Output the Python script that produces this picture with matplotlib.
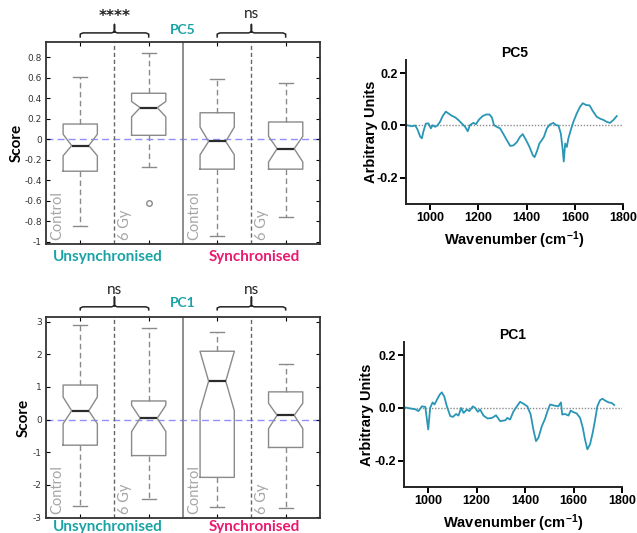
import matplotlib
matplotlib.use("Agg")
import matplotlib.pyplot as plt
import matplotlib.transforms as mtransforms

# ---- box plot data ----
groups = ["Unsynchronised", "Synchronised"]
conditions = ["Control", "6 Gy"]

pc5_med = [-0.06, 0.31, -0.02, -0.09]
pc5_q1 = [-0.31, 0.04, -0.29, -0.29]
pc5_q3 = [0.15, 0.45, 0.26, 0.17]
pc5_lo = [-0.84, -0.27, -0.94, -0.76]
pc5_hi = [0.61, 0.84, 0.59, 0.55]
pc5_cilo = [-0.16, 0.22, -0.15, -0.22]
pc5_cihi = [0.05, 0.37, 0.12, 0.03]
pc5_fliers = [[], [-0.62], [], []]
pc5_sig = ["****", "ns"]

pc1_med = [0.27, 0.04, 1.18, 0.13]
pc1_q1 = [-0.79, -1.11, -1.78, -0.86]
pc1_q3 = [1.06, 0.57, 2.10, 0.85]
pc1_lo = [-2.66, -2.46, -2.69, -2.71]
pc1_hi = [2.92, 2.80, 2.68, 1.71]
pc1_cilo = [-0.13, -0.37, 0.27, -0.28]
pc1_cihi = [0.69, 0.44, 2.09, 0.50]
pc1_fliers = [[], [], [], []]
pc1_sig = ["ns", "ns"]

pc5_yticks = [-1, -0.8, -0.6, -0.4, -0.2, 0, 0.2, 0.4, 0.6, 0.8]
pc5_yticklabels = ["-1", "-0.8", "-0.6", "-0.4", "-0.2", "0", "0.2", "0.4", "0.6", "0.8"]
pc1_yticks = [-3, -2, -1, 0, 1, 2, 3]
pc1_yticklabels = ["-3", "-2", "-1", "0", "1", "2", "3"]

# ---- loading spectra ----
wn5 = [905, 924, 938, 947, 959, 966, 972, 982, 993, 1003, 1010, 1021, 1030, 1041,
       1052, 1065, 1076, 1090, 1104, 1117, 1131, 1145, 1156, 1165, 1179, 1190, 1203,
       1218, 1232, 1246, 1256, 1265, 1276, 1290, 1304, 1318, 1332, 1346, 1360, 1373,
       1384, 1398, 1412, 1426, 1433, 1442, 1453, 1463, 1472, 1484, 1497, 1511, 1522,
       1532, 1542, 1550, 1554, 1560, 1567, 1573, 1583, 1594, 1608, 1622, 1633, 1647,
       1661, 1674, 1691, 1705, 1719, 1732, 1746, 1760, 1774]
pc5_load = [0.001, -0.003, 0.0, -0.014, -0.043, -0.049, -0.023, 0.007, 0.008, -0.011,
            0.001, -0.005, 0.0, 0.014, 0.036, 0.053, 0.046, 0.037, 0.031, 0.021, 0.008,
            -0.005, -0.022, 0.001, 0.010, 0.005, 0.023, 0.036, 0.042, 0.042, 0.031,
            0.001, -0.005, -0.011, -0.033, -0.056, -0.078, -0.076, -0.063, -0.043,
            -0.033, -0.056, -0.082, -0.114, -0.121, -0.101, -0.069, -0.056, -0.043,
            -0.011, 0.004, 0.010, 0.001, 0.0, -0.031, -0.095, -0.138, -0.069, -0.082,
            -0.050, -0.018, 0.014, 0.046, 0.072, 0.085, 0.078, 0.077, 0.056, 0.033,
            0.026, 0.021, 0.014, 0.010, 0.021, 0.036]

wn1 = [898, 926, 946, 960, 974, 988, 1000, 1008, 1018, 1026, 1036, 1047, 1056, 1066,
       1077, 1091, 1102, 1115, 1125, 1136, 1146, 1160, 1170, 1184, 1194, 1205, 1214,
       1228, 1245, 1263, 1280, 1297, 1318, 1327, 1338, 1352, 1366, 1379, 1393, 1409,
       1423, 1434, 1445, 1455, 1469, 1482, 1492, 1503, 1520, 1537, 1548, 1553, 1565,
       1579, 1588, 1599, 1613, 1627, 1638, 1647, 1657, 1668, 1679, 1689, 1698, 1709,
       1719, 1730, 1744, 1757, 1768]
pc1_load = [0.003, -0.002, -0.005, -0.012, 0.006, 0.004, -0.082, 0.0, 0.021, 0.013,
            0.031, 0.05, 0.059, 0.044, 0.006, -0.031, -0.034, -0.023, -0.029, 0.0,
            -0.019, -0.006, -0.012, 0.006, 0.0, -0.015, -0.006, -0.029, -0.04, -0.038,
            -0.028, -0.05, -0.047, -0.038, -0.044, -0.013, 0.006, 0.023, 0.016, 0.006,
            -0.025, -0.082, -0.126, -0.113, -0.069, -0.042, -0.013, 0.013, 0.009, 0.006,
            0.021, -0.025, -0.023, -0.029, -0.01, -0.016, -0.021, -0.038, -0.075,
            -0.119, -0.157, -0.138, -0.094, -0.044, 0.006, 0.029, 0.035, 0.028, 0.021,
            0.019, 0.011]

TEAL = "#1aa3a6"
PINK = "#ea1a6f"
BOXGRAY = "#8a8a8a"
LINE = "#2a96b6"
CAL = ["Lato", "DejaVu Sans"]
ARIAL = ["Liberation Sans", "DejaVu Sans"]


def draw_box_panel(ax, med, q1, q3, lo, hi, cilo, cihi, fliers, sig, title,
                   yticks, yticklabels, ylim, geom):
    positions = [1, 2, 3, 4]
    stats = []
    for i in range(4):
        stats.append(dict(med=med[i], q1=q1[i], q3=q3[i], whislo=lo[i], whishi=hi[i],
                          cilo=cilo[i], cihi=cihi[i], fliers=fliers[i]))
    ax.bxp(stats, positions=positions, widths=0.5, shownotches=True, capwidths=0.2,
           boxprops=dict(color=BOXGRAY, linewidth=1.0),
           whiskerprops=dict(color=BOXGRAY, linewidth=1.0, linestyle=(0, (4, 2.5))),
           capprops=dict(color=BOXGRAY, linewidth=1.0),
           medianprops=dict(color="#2b2b2b", linewidth=1.6),
           flierprops=dict(marker="o", markersize=4, markerfacecolor="none",
                           markeredgecolor=BOXGRAY, markeredgewidth=1.0))

    ax.axhline(0, color="#8f8fff", linewidth=1.0, linestyle=(0, (5, 3)), zorder=0)
    ax.axvline(2.5, color="#7a7a7a", linewidth=1.2)
    ax.axvline(1.5, color="#666666", linewidth=1.0, linestyle=(0, (3, 2)))
    ax.axvline(3.5, color="#666666", linewidth=1.0, linestyle=(0, (3, 2)))

    ax.set_xlim(0.5, 4.5)
    ax.set_ylim(*ylim)
    ax.set_yticks(yticks)
    ax.set_yticklabels(yticklabels)
    ax.set_xticks(positions)
    ax.set_xticklabels([])
    ax.tick_params(axis="y", direction="in", length=3, width=0.8, left=True,
                   right=True, labelsize=6.5, labelcolor="#333333", pad=3)
    ax.tick_params(axis="x", direction="in", length=3, width=0.8, top=True)
    for sp in ax.spines.values():
        sp.set_color("#333333")
        sp.set_linewidth(1.3)
    ax.set_ylabel("Score", family=CAL, fontweight="bold", fontsize=11)
    ax.yaxis.set_label_coords(geom["ylab"], 0.5)

    trans = mtransforms.blended_transform_factory(ax.transData, ax.transAxes)
    # condition labels inside the axes
    for base in (0, 2):
        for j, cond in enumerate(conditions):
            ax.text(base + j + 0.66, 0.02, cond, rotation=90, transform=trans,
                    ha="center", va="bottom", color="#a6a6a6", fontsize=10.5,
                    family=CAL)
    # group labels below
    ax.text(1.40, geom["grp"], groups[0], transform=trans, ha="center", va="center",
            color=TEAL, fontsize=11, fontweight="bold", family=CAL, clip_on=False)
    ax.text(3.54, geom["grp"], groups[1], transform=trans, ha="center", va="center",
            color=PINK, fontsize=11, fontweight="bold", family=CAL, clip_on=False)
    # title
    ax.text(2.5, geom["title"], title, transform=trans, ha="center", va="center",
            color=TEAL, fontsize=10, fontweight="bold", family=CAL, clip_on=False)
    # brackets with significance
    h, lo_y, tip = geom["h"], geom["lo"], geom["tip"]
    for k, (x0, x1) in enumerate([(1, 2), (3, 4)]):
        xm = (x0 + x1) / 2
        xs = [x0, x0, x0 + 0.04, xm - 0.04, xm, xm, xm, xm + 0.04, x1 - 0.04, x1, x1]
        ys = [lo_y, h - 0.006, h, h, h + 0.006, tip, h + 0.006, h, h, h - 0.006, lo_y]
        ax.plot(xs, ys, transform=trans, color="#222222", linewidth=1.1,
                clip_on=False, solid_joinstyle="round")
        if sig[k].startswith("*"):
            ax.text(xm, geom["sig"] - 0.012, sig[k], transform=trans, ha="center",
                    va="center", fontsize=11, fontweight="bold",
                    family=["DejaVu Sans"], color="#222222", clip_on=False)
        else:
            ax.text(xm, geom["sig"], sig[k], transform=trans, ha="center",
                    va="center", fontsize=11, family=CAL, color="#222222",
                    clip_on=False)


def draw_spectrum(ax, wn, vals, title, ylab_x):
    ax.plot(wn, vals, color=LINE, linewidth=1.3)
    ax.axhline(0, color="#8c8c8c", linewidth=1.0, linestyle=(0, (1, 1.2)), zorder=0)
    ax.set_xlim(900, 1800)
    ax.set_ylim(-0.3, 0.25)
    ax.set_xticks([1000, 1200, 1400, 1600, 1800])
    ax.set_yticks([-0.2, 0.0, 0.2])
    ax.set_yticklabels(["-0.2", "0.0", "0.2"])
    for sp in ("top", "right"):
        ax.spines[sp].set_visible(False)
    for sp in ("left", "bottom"):
        ax.spines[sp].set_linewidth(1.4)
        ax.spines[sp].set_color("#222222")
    ax.tick_params(direction="out", length=4, width=1.4, labelsize=9, pad=2)
    for lab in ax.get_xticklabels() + ax.get_yticklabels():
        lab.set_fontweight("bold")
        lab.set_family(ARIAL)
    ax.set_title(title, family=ARIAL, fontweight="bold", fontsize=10, pad=2)
    ax.set_ylabel("Arbitrary Units", family=ARIAL, fontweight="bold", fontsize=10.5)
    ax.yaxis.set_label_coords(ylab_x, 0.5)
    ax.set_xlabel("Wavenumber (cm$^{-1}$)", family=ARIAL, fontweight="bold",
                  fontsize=10.5, labelpad=4)


plt.rcParams["mathtext.default"] = "bf"
plt.rcParams["mathtext.fontset"] = "custom"
plt.rcParams["mathtext.bf"] = "Liberation Sans:bold"

fig = plt.figure(figsize=(6.37, 5.33), dpi=100)

ax_pc5 = fig.add_axes([0.0722, 0.5422, 0.430, 0.379])
draw_box_panel(ax_pc5, pc5_med, pc5_q1, pc5_q3, pc5_lo, pc5_hi, pc5_cilo, pc5_cihi,
               pc5_fliers, pc5_sig, "PC5", pc5_yticks, pc5_yticklabels, (-1.02, 0.95),
               dict(grp=-0.063, title=1.059, h=1.045, lo=1.025, tip=1.087, sig=1.139,
                    ylab=-0.080))

ax_pc1 = fig.add_axes([0.0722, 0.0281, 0.430, 0.377])
draw_box_panel(ax_pc1, pc1_med, pc1_q1, pc1_q3, pc1_lo, pc1_hi, pc1_cilo, pc1_cihi,
               pc1_fliers, pc1_sig, "PC1", pc1_yticks, pc1_yticklabels, (-3.03, 3.15),
               dict(grp=-0.046, title=1.068, h=1.051, lo=1.036, tip=1.100, sig=1.134,
                    ylab=-0.055))

ax_s5 = fig.add_axes([0.6374, 0.6173, 0.3407, 0.270])
draw_spectrum(ax_s5, wn5, pc5_load, "PC5", -0.129)

ax_s1 = fig.add_axes([0.6342, 0.0863, 0.3423, 0.272])
draw_spectrum(ax_s1, wn1, pc1_load, "PC1", -0.138)

fig.savefig("out.png", dpi=100)
